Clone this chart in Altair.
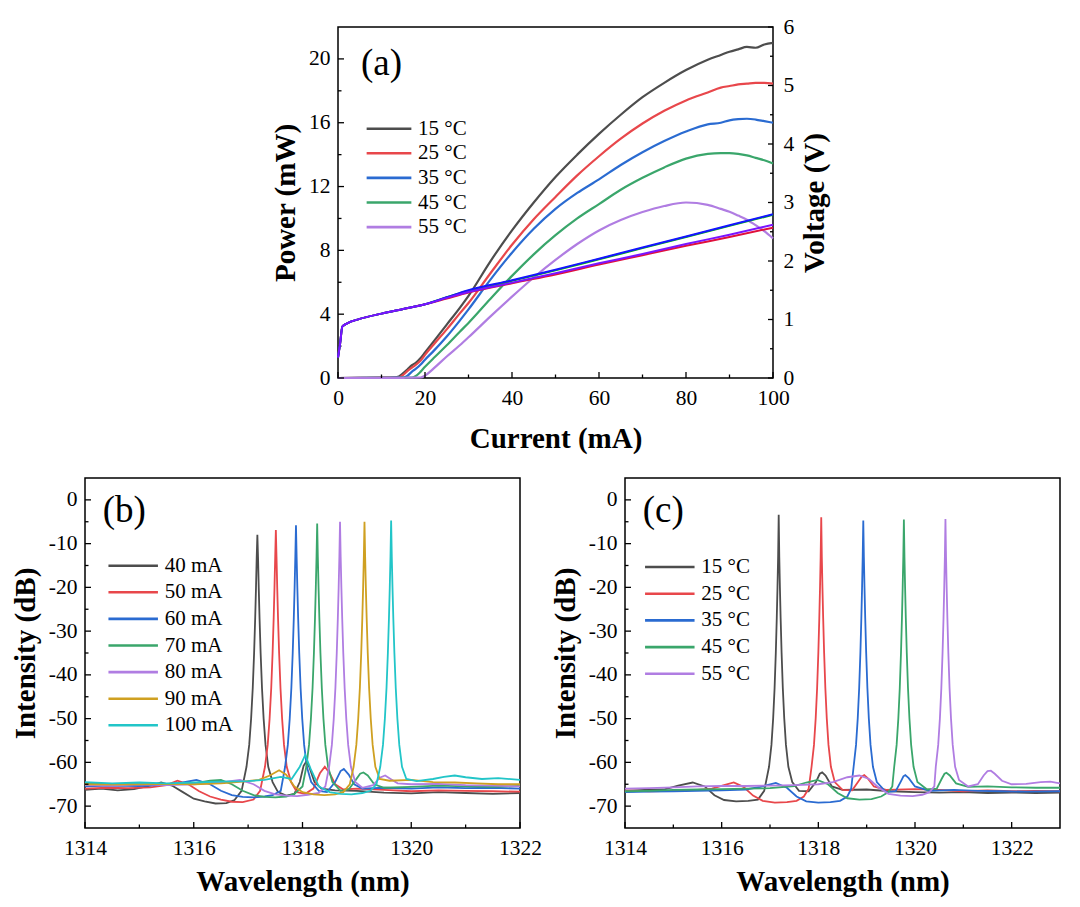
import altair as alt
import pandas as pd

FONT = "Liberation Serif"
W = 435
HA = 351
HB = 350

# ---------------- (a) power / voltage vs current ----------------
TEMP_LABELS = ["15 \u00b0C", "25 \u00b0C", "35 \u00b0C", "45 \u00b0C", "55 \u00b0C"]
TEMP_COLORS = ["#4d4d4d", "#e8474b", "#2a6bd1", "#3aa66b", "#b07de2"]

CURRENT = [0, 5, 10, 13, 14, 15, 16, 17, 18, 19, 20, 22, 25, 28, 30, 35, 40, 45, 50, 55, 60,
           65, 70, 75, 80, 85, 88, 90, 92, 94, 96, 98, 100]
P15 = [0, 0.01, 0.02, 0.04, 0.1, 0.3, 0.55, 0.8, 0.98, 1.25, 1.6, 2.3, 3.35, 4.4, 5.15, 7.3, 9.25,
       11.0, 12.6, 14.0, 15.3, 16.5, 17.6, 18.5, 19.3, 19.95, 20.25, 20.45, 20.6, 20.75, 20.7, 20.9, 21.0]
P25 = [0, 0.01, 0.02, 0.02, 0.03, 0.2, 0.45, 0.65, 0.85, 1.1, 1.45, 2.1, 3.05, 4.05, 4.7, 6.55, 8.35,
       9.95, 11.35, 12.7, 13.9, 15.0, 15.95, 16.75, 17.4, 17.9, 18.2, 18.3, 18.4, 18.45, 18.5, 18.5, 18.45]
P35 = [0, 0.01, 0.01, 0.02, 0.02, 0.03, 0.15, 0.4, 0.6, 0.85, 1.15, 1.7, 2.6, 3.6, 4.3, 6.15, 7.85,
       9.35, 10.6, 11.6, 12.45, 13.35, 14.15, 14.85, 15.45, 15.9, 16.0, 16.15, 16.22, 16.25, 16.2, 16.1, 16.0]
P45 = [0, 0, 0.01, 0.01, 0.01, 0.02, 0.02, 0.03, 0.15, 0.4, 0.7, 1.25, 2.05, 2.9, 3.45, 4.95, 6.4,
       7.75, 8.95, 10.0, 10.9, 11.8, 12.55, 13.2, 13.75, 14.05, 14.1, 14.1, 14.05, 13.95, 13.8, 13.65, 13.45]
P55 = [0, 0, 0.01, 0.01, 0.01, 0.01, 0.02, 0.02, 0.02, 0.03, 0.15, 0.6, 1.35, 2.05, 2.55, 3.85, 5.1,
       6.3, 7.4, 8.4, 9.25, 9.9, 10.4, 10.78, 11.0, 10.85, 10.6, 10.42, 10.18, 9.92, 9.58, 9.2, 8.75]

V_CURRENT = [0, 0.5, 1, 2, 5, 10, 15, 20, 25, 30, 40, 50, 60, 70, 80, 90, 100]
V25 = [0.35, 0.6, 0.88, 0.93, 1.01, 1.1, 1.18, 1.26, 1.36, 1.46, 1.62, 1.77, 1.94, 2.1, 2.26, 2.41, 2.57]
V45 = [0.35, 0.6, 0.88, 0.93, 1.01, 1.1, 1.18, 1.26, 1.38, 1.49, 1.66, 1.84, 2.03, 2.22, 2.41, 2.6, 2.79]
V35 = [0.35, 0.6, 0.88, 0.93, 1.01, 1.1, 1.18, 1.26, 1.38, 1.5, 1.67, 1.85, 2.04, 2.23, 2.42, 2.61, 2.8]
V55 = [0.35, 0.6, 0.88, 0.93, 1.01, 1.1, 1.18, 1.26, 1.37, 1.47, 1.63, 1.79, 1.96, 2.12, 2.29, 2.45, 2.62]
V_LABELS = ["V25", "V45", "V35", "V55"]
V_COLORS = ["#e0103c", "#00c000", "#1414ff", "#7a14ff"]

A_XTICKS = [0, 20, 40, 60, 80, 100]
A_XMINOR = [10, 30, 50, 70, 90]
A_YTICKS = [0, 4, 8, 12, 16, 20]
A_YMINOR = [2, 6, 10, 14, 18]
A_VTICKS = [0, 1, 2, 3, 4, 5, 6]
A_VMINOR = [0.5, 1.5, 2.5, 3.5, 4.5, 5.5]

# ---------------- (b) spectra vs current ----------------
B_LABELS = ["40 mA", "50 mA", "60 mA", "70 mA", "80 mA", "90 mA", "100 mA"]
B_COLORS = ["#4d4d4d", "#e8474b", "#2a6bd1", "#3aa66b", "#b07de2", "#cfa021", "#22c5c8"]

SPEC_B_40 = [(1314.0, -66.3), (1314.3, -66.0), (1314.6, -66.4), (1314.9, -66.1), (1315.2, -65.3), (1315.4, -64.6),
             (1315.6, -65.3), (1315.8, -66.8), (1316.0, -68.3), (1316.2, -68.9), (1316.4, -69.4), (1316.6, -69.3),
             (1316.75, -68.6), (1316.88, -66.5), (1316.97, -61), (1317.02, -56), (1317.055, -50), (1317.085, -43),
             (1317.11, -35), (1317.13, -27), (1317.145, -20), (1317.158, -13), (1317.17, -8.0), (1317.182, -13),
             (1317.195, -20), (1317.21, -27), (1317.23, -35), (1317.255, -43), (1317.285, -50), (1317.32, -56),
             (1317.37, -61), (1317.45, -64.5), (1317.55, -66.8), (1317.7, -67.6), (1317.85, -67.2), (1317.95, -64.5),
             (1318.02, -60.8), (1318.07, -59.8), (1318.13, -61.2), (1318.22, -64.5), (1318.35, -66.0), (1318.6, -66.4),
             (1319.0, -66.5), (1319.5, -66.9), (1320.0, -67.1), (1320.5, -66.8), (1321.0, -67.0), (1321.5, -67.2),
             (1322.0, -67.0)]
SPEC_B_50 = [(1314.0, -66.0), (1314.4, -65.8), (1314.8, -65.9), (1315.2, -65.7), (1315.5, -65.2), (1315.7, -64.2),
             (1315.9, -65.0), (1316.1, -66.6), (1316.3, -67.8), (1316.5, -68.5), (1316.7, -69.0), (1316.9, -69.1),
             (1317.1, -68.5), (1317.22, -66.5), (1317.31, -61), (1317.36, -56), (1317.395, -50), (1317.425, -43),
             (1317.45, -35), (1317.47, -27), (1317.485, -20), (1317.498, -13), (1317.51, -6.9), (1317.522, -13),
             (1317.535, -20), (1317.55, -27), (1317.57, -35), (1317.595, -43), (1317.625, -50), (1317.66, -56),
             (1317.71, -61), (1317.79, -64.5), (1317.9, -66.8), (1318.05, -67.2), (1318.2, -66.0), (1318.32, -62.5),
             (1318.41, -61.0), (1318.5, -62.5), (1318.6, -65.0), (1318.75, -66.2), (1319.0, -66.0), (1319.5, -66.3),
             (1320.0, -66.6), (1320.5, -66.4), (1321.0, -66.5), (1321.5, -66.6), (1322.0, -66.7)]
SPEC_B_60 = [(1314.0, -65.5), (1314.5, -65.3), (1315.0, -65.4), (1315.5, -65.1), (1315.8, -64.6), (1316.05, -64.0),
             (1316.3, -65.0), (1316.5, -66.5), (1316.7, -67.5), (1316.9, -67.9), (1317.1, -68.0), (1317.3, -67.8),
             (1317.45, -67.5), (1317.6, -66.5), (1317.68, -61), (1317.73, -56), (1317.765, -50), (1317.795, -43),
             (1317.82, -35), (1317.84, -27), (1317.855, -20), (1317.868, -13), (1317.88, -5.8), (1317.892, -13),
             (1317.905, -20), (1317.92, -27), (1317.94, -35), (1317.965, -43), (1317.995, -50), (1318.03, -56),
             (1318.08, -61), (1318.16, -64.5), (1318.3, -66.5), (1318.45, -66.8), (1318.6, -64.5), (1318.7, -62.0),
             (1318.76, -61.5), (1318.85, -62.8), (1318.95, -65.0), (1319.1, -66.0), (1319.5, -65.8), (1320.0, -66.0),
             (1320.5, -65.7), (1321.0, -65.9), (1321.5, -65.8), (1322.0, -66.0)]
SPEC_B_70 = [(1314.0, -64.8), (1314.5, -65.0), (1315.0, -64.9), (1315.5, -65.0), (1316.0, -64.8), (1316.3, -64.2),
             (1316.5, -64.0), (1316.7, -65.0), (1316.9, -66.5), (1317.1, -67.5), (1317.3, -67.9), (1317.5, -68.0),
             (1317.7, -67.8), (1317.85, -67.2), (1318.0, -65.5), (1318.07, -61), (1318.12, -56), (1318.155, -50),
             (1318.185, -43), (1318.21, -35), (1318.23, -27), (1318.245, -20), (1318.258, -13), (1318.27, -5.4),
             (1318.282, -13), (1318.295, -20), (1318.31, -27), (1318.33, -35), (1318.355, -43), (1318.385, -50),
             (1318.42, -56), (1318.47, -61), (1318.55, -64.5), (1318.7, -66.5), (1318.85, -66.2), (1318.98, -64.0),
             (1319.06, -62.6), (1319.12, -62.3), (1319.2, -63.0), (1319.32, -65.0), (1319.5, -65.8), (1320.0, -65.6),
             (1320.5, -65.3), (1321.0, -65.5), (1321.5, -65.6), (1322.0, -65.4)]
SPEC_B_80 = [(1314.0, -65.2), (1314.5, -65.3), (1315.0, -65.0), (1315.5, -65.2), (1316.0, -65.0), (1316.5, -64.6),
             (1316.85, -64.0), (1317.1, -65.0), (1317.3, -66.5), (1317.5, -67.3), (1317.7, -67.6), (1317.9, -67.7),
             (1318.1, -67.4), (1318.3, -67.0), (1318.42, -65.5), (1318.49, -61), (1318.54, -56), (1318.575, -50),
             (1318.605, -43), (1318.63, -35), (1318.65, -27), (1318.665, -20), (1318.678, -13), (1318.69, -5.0),
             (1318.702, -13), (1318.715, -20), (1318.73, -27), (1318.75, -35), (1318.775, -43), (1318.805, -50),
             (1318.84, -56), (1318.89, -61), (1318.97, -64.5), (1319.1, -65.8), (1319.3, -65.2), (1319.42, -63.5),
             (1319.52, -63.0), (1319.62, -63.8), (1319.75, -64.8), (1320.0, -65.0), (1320.5, -64.9), (1321.0, -65.2),
             (1321.5, -65.3), (1322.0, -65.5)]
SPEC_B_90 = [(1314.0, -65.0), (1314.5, -65.1), (1315.0, -65.0), (1315.5, -64.9), (1316.0, -65.0), (1316.5, -64.8),
             (1316.9, -64.4), (1317.2, -64.0), (1317.4, -63.0), (1317.57, -61.8), (1317.7, -62.8), (1317.85, -65.5),
             (1318.0, -66.8), (1318.2, -67.3), (1318.4, -67.5), (1318.6, -67.3), (1318.75, -66.8), (1318.87, -65.0),
             (1318.94, -61), (1318.99, -56), (1319.025, -50), (1319.055, -43), (1319.08, -35), (1319.1, -27),
             (1319.115, -20), (1319.128, -13), (1319.14, -5.0), (1319.152, -13), (1319.165, -20), (1319.18, -27),
             (1319.2, -35), (1319.225, -43), (1319.255, -50), (1319.29, -56), (1319.34, -61), (1319.42, -63.8),
             (1319.6, -64.2), (1320.0, -64.0), (1320.4, -64.5), (1320.8, -64.6), (1321.2, -64.8), (1321.6, -65.0),
             (1322.0, -65.0)]
SPEC_B_100 = [(1314.0, -64.5), (1314.5, -64.8), (1315.0, -64.6), (1315.5, -64.8), (1316.0, -64.6), (1316.5, -64.4),
              (1317.0, -64.3), (1317.3, -64.0), (1317.6, -63.3), (1317.8, -63.8), (1317.95, -61.0), (1318.05, -58.3),
              (1318.15, -61.5), (1318.3, -65.5), (1318.5, -66.8), (1318.7, -67.2), (1318.9, -67.3), (1319.1, -67.0),
              (1319.25, -66.5), (1319.36, -65.0), (1319.43, -61), (1319.48, -56), (1319.515, -50), (1319.545, -43),
              (1319.57, -35), (1319.59, -27), (1319.605, -20), (1319.618, -13), (1319.63, -4.7), (1319.642, -13),
              (1319.655, -20), (1319.67, -27), (1319.69, -35), (1319.715, -43), (1319.745, -50), (1319.78, -56),
              (1319.83, -61), (1319.91, -63.8), (1320.1, -64.3), (1320.4, -63.8), (1320.6, -63.3), (1320.8, -63.0),
              (1321.0, -63.4), (1321.3, -63.8), (1321.6, -63.6), (1322.0, -64.0)]
B_SERIES = [SPEC_B_40, SPEC_B_50, SPEC_B_60, SPEC_B_70, SPEC_B_80, SPEC_B_90, SPEC_B_100]

# ---------------- (c) spectra vs temperature ----------------
SPEC_C_15 = [(1314.0, -66.5), (1314.4, -66.3), (1314.8, -66.2), (1315.1, -65.3), (1315.4, -64.6), (1315.65, -65.5),
             (1315.85, -67.5), (1316.05, -68.6), (1316.3, -68.9), (1316.55, -68.8), (1316.75, -68.5), (1316.88, -66.5),
             (1316.98, -61), (1317.03, -56), (1317.065, -50), (1317.095, -43), (1317.12, -35), (1317.14, -27),
             (1317.155, -20), (1317.168, -13), (1317.18, -3.4), (1317.192, -13), (1317.205, -20), (1317.22, -27),
             (1317.24, -35), (1317.265, -43), (1317.295, -50), (1317.33, -56), (1317.38, -61), (1317.46, -64.5),
             (1317.6, -66.5), (1317.8, -66.6), (1317.95, -64.5), (1318.03, -62.6), (1318.08, -62.3), (1318.15, -63.0),
             (1318.28, -65.5), (1318.5, -66.3), (1319.0, -66.2), (1319.5, -66.6), (1320.0, -66.8), (1320.5, -66.9),
             (1321.0, -66.8), (1321.5, -67.0), (1322.0, -66.9), (1322.5, -67.0), (1323.0, -66.9)]
SPEC_C_25 = [(1314.0, -66.4), (1314.5, -66.6), (1315.0, -66.5), (1315.5, -66.3), (1315.8, -66.0), (1316.05, -65.2),
             (1316.25, -64.6), (1316.45, -65.6), (1316.65, -67.6), (1316.85, -68.8), (1317.1, -69.2), (1317.35, -69.1),
             (1317.55, -68.8), (1317.7, -67.8), (1317.8, -66.0), (1317.86, -61), (1317.91, -56), (1317.945, -50),
             (1317.975, -43), (1318.0, -35), (1318.02, -27), (1318.035, -20), (1318.048, -13), (1318.06, -4.0),
             (1318.072, -13), (1318.085, -20), (1318.1, -27), (1318.12, -35), (1318.145, -43), (1318.175, -50),
             (1318.21, -56), (1318.26, -61), (1318.34, -64.5), (1318.5, -66.3), (1318.7, -66.4), (1318.82, -64.5),
             (1318.9, -63.2), (1318.95, -62.9), (1319.02, -63.6), (1319.15, -65.5), (1319.4, -66.3), (1320.0, -66.1),
             (1320.5, -66.3), (1321.0, -66.6), (1321.5, -66.4), (1322.0, -66.6), (1322.5, -66.5), (1323.0, -66.6)]
SPEC_C_35 = [(1314.0, -66.8), (1314.5, -66.7), (1315.0, -66.6), (1315.5, -66.5), (1316.0, -66.4), (1316.5, -66.2),
             (1316.8, -65.6), (1317.12, -64.7), (1317.35, -65.8), (1317.55, -67.8), (1317.75, -68.9), (1318.0, -69.2),
             (1318.25, -69.1), (1318.45, -68.8), (1318.6, -67.8), (1318.68, -66.0), (1318.73, -61), (1318.78, -56),
             (1318.815, -50), (1318.845, -43), (1318.87, -35), (1318.89, -27), (1318.905, -20), (1318.918, -13),
             (1318.93, -4.7), (1318.942, -13), (1318.955, -20), (1318.97, -27), (1318.99, -35), (1319.015, -43),
             (1319.045, -50), (1319.08, -56), (1319.13, -61), (1319.21, -64.5), (1319.4, -66.8), (1319.6, -66.6),
             (1319.7, -64.5), (1319.76, -63.2), (1319.8, -62.9), (1319.87, -63.6), (1320.0, -65.5), (1320.3, -66.5),
             (1320.8, -66.3), (1321.3, -66.5), (1321.8, -66.6), (1322.3, -66.7), (1323.0, -66.6)]
SPEC_C_45 = [(1314.0, -66.6), (1314.5, -66.5), (1315.0, -66.3), (1315.5, -66.2), (1316.0, -66.1), (1316.5, -66.0),
             (1317.0, -65.9), (1317.5, -65.4), (1317.75, -64.6), (1317.98, -64.0), (1318.2, -65.0), (1318.4, -67.0),
             (1318.6, -68.2), (1318.85, -68.5), (1319.1, -68.4), (1319.3, -67.8), (1319.45, -66.8), (1319.53, -65.5),
             (1319.57, -61), (1319.62, -56), (1319.655, -50), (1319.685, -43), (1319.71, -35), (1319.73, -27),
             (1319.745, -20), (1319.758, -13), (1319.77, -4.5), (1319.782, -13), (1319.795, -20), (1319.81, -27),
             (1319.83, -35), (1319.855, -43), (1319.885, -50), (1319.92, -56), (1319.97, -61), (1320.05, -64.5),
             (1320.25, -66.2), (1320.45, -66.0), (1320.55, -63.8), (1320.61, -62.6), (1320.65, -62.4), (1320.72, -63.0),
             (1320.85, -64.8), (1321.1, -65.6), (1321.5, -65.5), (1322.0, -65.7), (1322.5, -65.8), (1323.0, -65.8)]
SPEC_C_55 = [(1314.0, -66.0), (1314.5, -65.9), (1315.0, -65.7), (1315.5, -65.5), (1316.0, -65.4), (1316.5, -65.4),
             (1317.0, -65.3), (1317.5, -65.2), (1318.0, -65.0), (1318.3, -64.5), (1318.6, -63.4), (1318.85, -63.0),
             (1319.05, -63.8), (1319.25, -65.8), (1319.45, -67.2), (1319.7, -67.6), (1319.95, -67.7), (1320.15, -67.4),
             (1320.3, -66.8), (1320.4, -65.5), (1320.43, -61), (1320.48, -56), (1320.515, -50), (1320.545, -43),
             (1320.57, -35), (1320.59, -27), (1320.605, -20), (1320.618, -13), (1320.63, -4.4), (1320.642, -13),
             (1320.655, -20), (1320.67, -27), (1320.69, -35), (1320.715, -43), (1320.745, -50), (1320.78, -56),
             (1320.83, -61), (1320.91, -64.0), (1321.1, -65.5), (1321.3, -65.0), (1321.42, -63.0), (1321.5, -62.0),
             (1321.57, -61.9), (1321.65, -62.6), (1321.8, -64.2), (1322.0, -65.0), (1322.3, -64.9), (1322.6, -64.5),
             (1322.8, -64.4), (1323.0, -64.8)]
C_SERIES = [SPEC_C_15, SPEC_C_25, SPEC_C_35, SPEC_C_45, SPEC_C_55]

SPEC_YTICKS = [-70, -60, -50, -40, -30, -20, -10, 0]
SPEC_YMINOR = [-65, -55, -45, -35, -25, -15, -5]
B_XTICKS = [1314, 1316, 1318, 1320, 1322]
B_XMINOR = [1315, 1317, 1319, 1321]
C_XTICKS = [1314, 1316, 1318, 1320, 1322]
C_XMINOR = [1315, 1317, 1319, 1321]

LABEL_EXPR = "'' + datum.value"


def axis(**kw):
    base = dict(labelFont=FONT, labelFontSize=21.5, labelColor="black",
                titleFont=FONT, titleFontSize=29, titleFontWeight="bold", titleColor="black",
                ticks=False, tickSize=0, domain=False, grid=False,
                labelFlush=False, labelOverlap=False, labelBound=False, labelExpr=LABEL_EXPR)
    base.update(kw)
    return alt.Axis(**base)


def x_ticks(vals, scale, ax, length, h):
    return alt.Chart(pd.DataFrame({"t": vals})).mark_rule(color="black", strokeWidth=1.3).encode(
        x=alt.X("t:Q", scale=scale, axis=ax),
        y=alt.value(h), y2=alt.value(h - length))


def y_ticks_left(vals, scale, ax, length):
    return alt.Chart(pd.DataFrame({"t": vals})).mark_rule(color="black", strokeWidth=1.3).encode(
        y=alt.Y("t:Q", scale=scale, axis=ax),
        x=alt.value(0), x2=alt.value(length))


def y_ticks_right(vals, scale, ax, length, w):
    return alt.Chart(pd.DataFrame({"t": vals})).mark_rule(color="black", strokeWidth=1.3).encode(
        y=alt.Y("t:Q", scale=scale, axis=ax),
        x=alt.value(w), x2=alt.value(w - length))


def tag(text, x, y):
    return alt.Chart(pd.DataFrame({"t": [text]})).mark_text(
        font=FONT, fontSize=37, align="left", baseline="middle", color="black"
    ).encode(x=alt.value(x), y=alt.value(y), text="t:N")


def legend(lx, ly, rowpad, size):
    return alt.Legend(title=None, orient="none", legendX=lx, legendY=ly, symbolType="stroke",
                      symbolSize=size, symbolStrokeWidth=2.6, labelFont=FONT, labelFontSize=21,
                      labelColor="black", clipHeight=22, rowPadding=rowpad, labelOffset=5,
                      padding=0, labelLimit=200)


# ---------- build (a) ----------
p_rows = []
for lab, vals in zip(TEMP_LABELS, [P15, P25, P35, P45, P55]):
    for c, p in zip(CURRENT, vals):
        p_rows.append({"current": c, "power": p, "temp": lab})
df_p = pd.DataFrame(p_rows)

v_rows = []
for lab, vals in zip(V_LABELS, [V25, V45, V35, V55]):
    for c, v in zip(V_CURRENT, vals):
        v_rows.append({"current": c, "voltage": v, "vs": lab})
df_v = pd.DataFrame(v_rows)

xs_a = alt.Scale(domain=[0, 100], nice=False, zero=False)
ys_p = alt.Scale(domain=[0, 22], nice=False, zero=False)
ys_v = alt.Scale(domain=[0, 6], nice=False, zero=False)

ax_a_x = axis(title="Current (mA)", values=A_XTICKS, labelPadding=9, titlePadding=16)
ax_a_p = axis(title="Power (mW)", values=A_YTICKS, labelPadding=8, titlePadding=8.5)
ax_a_v = axis(title="Voltage (V)", orient="right", values=A_VTICKS, labelPadding=10,
              titlePadding=7, titleAngle=270, titleBaseline="top")

power = alt.Chart(df_p).mark_line(strokeWidth=2.2, interpolate="monotone").encode(
    x=alt.X("current:Q", scale=xs_a, axis=ax_a_x),
    y=alt.Y("power:Q", scale=ys_p, axis=ax_a_p),
    color=alt.Color("temp:N", scale=alt.Scale(domain=TEMP_LABELS, range=TEMP_COLORS),
                    legend=legend(27, 90.7, 2.6, 2000)),
)
voltage = alt.Chart(df_v).mark_line(strokeWidth=2.0, interpolate="monotone").encode(
    x=alt.X("current:Q", scale=xs_a, axis=ax_a_x),
    y=alt.Y("voltage:Q", scale=ys_v, axis=ax_a_v),
    color=alt.Color("vs:N", scale=alt.Scale(domain=V_LABELS, range=V_COLORS), legend=None),
)

left_group = alt.layer(
    power,
    x_ticks(A_XTICKS, xs_a, ax_a_x, 6, HA), x_ticks(A_XMINOR, xs_a, ax_a_x, 3.5, HA),
    y_ticks_left(A_YTICKS, ys_p, ax_a_p, 6), y_ticks_left(A_YMINOR, ys_p, ax_a_p, 3.5),
    tag("(a)", 23, 37.3),
)
right_group = alt.layer(
    voltage,
    y_ticks_right(A_VTICKS, ys_v, ax_a_v, 5, W), y_ticks_right(A_VMINOR, ys_v, ax_a_v, 3, W),
)
chart_a = alt.layer(left_group, right_group).resolve_scale(
    y="independent", color="independent").properties(width=W, height=HA)


# ---------- spectra panels ----------
def spectrum_panel(series, labels, colors, xdom, xmaj, xmin, tagtext, lx, ly, rowpad):
    rows = []
    for lab, pts in zip(labels, series):
        for wl, db in pts:
            rows.append({"wl": wl, "db": db, "s": lab})
    df = pd.DataFrame(rows)
    xs = alt.Scale(domain=xdom, nice=False, zero=False)
    ys = alt.Scale(domain=[-75, 5], nice=False, zero=False)
    ax_x = axis(title="Wavelength (nm)", values=xmaj, labelPadding=9.5, titlePadding=8.8)
    ax_y = axis(title="Intensity (dB)", values=SPEC_YTICKS, labelPadding=8, titlePadding=8)
    lines = alt.Chart(df).mark_line(strokeWidth=1.8, clip=True).encode(
        x=alt.X("wl:Q", scale=xs, axis=ax_x),
        y=alt.Y("db:Q", scale=ys, axis=ax_y),
        color=alt.Color("s:N", scale=alt.Scale(domain=labels, range=colors),
                        legend=legend(lx, ly, rowpad, 2450)),
    )
    return alt.layer(
        lines,
        x_ticks(xmaj, xs, ax_x, 6, HB), x_ticks(xmin, xs, ax_x, 3.5, HB),
        y_ticks_left(SPEC_YTICKS, ys, ax_y, 6), y_ticks_left(SPEC_YMINOR, ys, ax_y, 3.5),
        tag(tagtext, 17.7, 33.3),
    ).properties(width=W, height=HB)


chart_b = spectrum_panel(B_SERIES, B_LABELS, B_COLORS, [1314, 1322], B_XTICKS, B_XMINOR,
                         "(b)", 21.7, 76.7, 4.6)
chart_c = spectrum_panel(C_SERIES, TEMP_LABELS, TEMP_COLORS, [1314, 1323], C_XTICKS, C_XMINOR,
                         "(c)", 18.3, 78, 4.7)

spacer = alt.Chart(pd.DataFrame({"z": [0]})).mark_point(opacity=0).properties(
    width=253, height=HA, view=alt.ViewBackground(stroke="transparent"))

top = alt.hconcat(spacer, chart_a, spacing=0, bounds="flush")
bottom = alt.hconcat(chart_b, chart_c, spacing=105, bounds="flush").resolve_scale(
    color="independent")
chart = alt.vconcat(top, bottom, spacing=22,
                    padding={"left": 2, "top": 7, "right": 10, "bottom": 5}
                    ).resolve_scale(color="independent").configure_view(
    stroke="black", strokeWidth=1.5
).properties(background="white")

chart.save("out.html", embed_options={"renderer": "svg", "actions": False})
